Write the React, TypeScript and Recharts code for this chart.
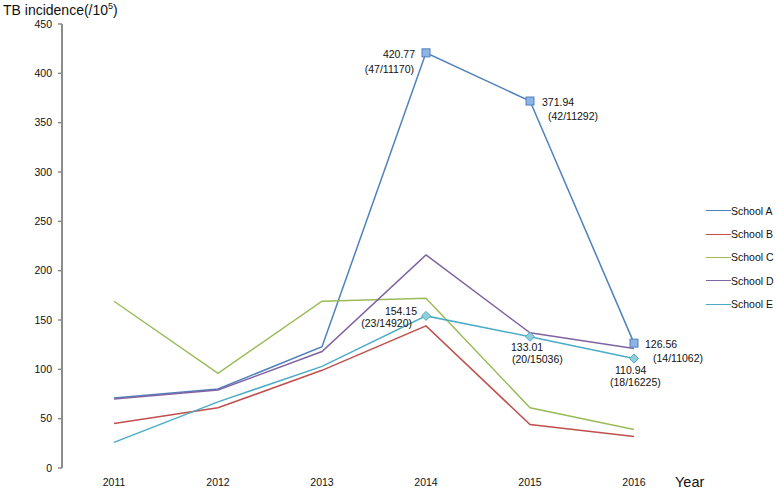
import { LineChart, Line, XAxis, YAxis } from 'recharts'

const years = ['2011', '2012', '2013', '2014', '2015', '2016']
const schoolA = [71, 80, 123, 420.77, 371.94, 126.56]
const schoolB = [45, 61, 99, 144, 44, 32]
const schoolC = [169, 96, 169, 172, 61, 39]
const schoolD = [70, 79, 118, 216, 137, 121]
const schoolE = [26, 67, 103, 154.15, 133.01, 110.94]
const seriesNames = ['School A', 'School B', 'School C', 'School D', 'School E']
const casesA = ['', '', '', '(47/11170)', '(42/11292)', '(14/11062)']
const casesE = ['', '', '', '(23/14920)', '(20/15036)', '(18/16225)']
const yTicks = [0, 50, 100, 150, 200, 250, 300, 350, 400, 450]
const boundaryTicks = [0, 1, 2, 3, 4, 5, 6]

const colors = ['#4f81bd', '#c0504d', '#9bbb59', '#8064a2', '#4bacc6']
const FONT = '"Liberation Sans", Arial, sans-serif'
const AXIS = '#8c8c8c'

const data = years.map((year, i) => ({
  year,
  A: schoolA[i],
  B: schoolB[i],
  C: schoolC[i],
  D: schoolD[i],
  E: schoolE[i],
}))

// label offsets from the marker: [value dx, value dy, cases dx, cases dy, anchor]
const placeA: Record<number, [number, number, number, number, 'start' | 'end']> = {
  3: [-11, 1, -12, 16, 'end'],
  4: [12, 1, 18, 15, 'start'],
  5: [11, 1, 19, 15, 'start'],
}
const placeE: Record<number, [number, number, number, number, 'start' | 'end']> = {
  3: [-9, -5, -14, 7, 'end'],
  4: [-19, 11, -18, 23, 'start'],
  5: [-19, 12, -24, 24, 'start'],
}

const makeDot = (
  key: string,
  shape: 'square' | 'diamond',
  values: number[],
  cases: string[],
  place: Record<number, [number, number, number, number, 'start' | 'end']>
) => (props: any) => {
  const { cx, cy, index } = props
  if (!cases[index] || cx == null || cy == null) return <g key={`${key}-${index}`} />
  const [vdx, vdy, cdx, cdy, anchor] = place[index]
  const marker =
    shape === 'square' ? (
      <rect x={cx - 4} y={cy - 4} width={8} height={8} fill="#8db4e2" stroke="#4f81bd" strokeWidth={1} />
    ) : (
      <polygon
        points={`${cx},${cy - 4.5} ${cx + 4.5},${cy} ${cx},${cy + 4.5} ${cx - 4.5},${cy}`}
        fill="#92cddc"
        stroke="#4bacc6"
        strokeWidth={1}
      />
    )
  return (
    <g key={`${key}-${index}`}>
      {marker}
      <text x={cx + vdx} y={cy + vdy} dy="0.35em" textAnchor={anchor} fontSize={10.5} fill="#111" fontFamily={FONT}>
        {values[index].toFixed(2)}
      </text>
      <text x={cx + cdx} y={cy + cdy} dy="0.35em" textAnchor={anchor} fontSize={10.5} fill="#111" fontFamily={FONT}>
        {cases[index]}
      </text>
    </g>
  )
}

export default function App() {
  return (
    <div style={{ position: 'absolute', left: 0, top: 0, width: 777, height: 493, background: '#fff', fontFamily: FONT }}>
      <LineChart width={777} height={493} data={data} margin={{ top: 24, right: 91, left: 22, bottom: 0 }}>
        <XAxis
          xAxisId="bounds"
          type="number"
          domain={[0, 6]}
          ticks={boundaryTicks}
          tick={false}
          height={0}
          axisLine={{ stroke: AXIS, strokeWidth: 2 }}
          tickLine={{ stroke: AXIS, strokeWidth: 1.5 }}
          tickSize={4}
        />
        <XAxis
          xAxisId="years"
          dataKey="year"
          scale="band"
          axisLine={false}
          tickLine={false}
          height={25}
          tickSize={5}
          tickMargin={6}
          tick={{ fontSize: 10.5, fill: '#111', fontFamily: FONT }}
        />
        <YAxis
          domain={[0, 450]}
          ticks={yTicks}
          width={40}
          axisLine={{ stroke: AXIS, strokeWidth: 2 }}
          tickLine={{ stroke: AXIS, strokeWidth: 1.5 }}
          tickSize={4}
          tickMargin={6}
          tick={{ fontSize: 10.5, fill: '#111', fontFamily: FONT }}
        />
        <Line xAxisId="years" dataKey="A" name={seriesNames[0]} stroke={colors[0]} strokeWidth={1.5}
          dot={makeDot('a', 'square', schoolA, casesA, placeA)} activeDot={false} isAnimationActive={false} />
        <Line xAxisId="years" dataKey="B" name={seriesNames[1]} stroke={colors[1]} strokeWidth={1.5}
          dot={false} activeDot={false} isAnimationActive={false} />
        <Line xAxisId="years" dataKey="C" name={seriesNames[2]} stroke={colors[2]} strokeWidth={1.5}
          dot={false} activeDot={false} isAnimationActive={false} />
        <Line xAxisId="years" dataKey="D" name={seriesNames[3]} stroke={colors[3]} strokeWidth={1.5}
          dot={false} activeDot={false} isAnimationActive={false} />
        <Line xAxisId="years" dataKey="E" name={seriesNames[4]} stroke={colors[4]} strokeWidth={1.5}
          dot={makeDot('e', 'diamond', schoolE, casesE, placeE)} activeDot={false} isAnimationActive={false} />
      </LineChart>

      <div style={{ position: 'absolute', left: 3, top: 1, fontSize: 14, color: '#111', whiteSpace: 'nowrap' }}>
        TB incidence(/10<sup style={{ fontSize: 9 }}>5</sup>)
      </div>
      <div style={{ position: 'absolute', left: 675, top: 474, fontSize: 14.5, color: '#111' }}>Year</div>

      <div style={{ position: 'absolute', left: 706, top: 199 }}>
        {seriesNames.map((name, i) => (
          <div key={name} style={{ display: 'flex', alignItems: 'center', height: 23.4, fontSize: 10.5, color: '#111' }}>
            <span style={{ display: 'inline-block', width: 25, height: 0, borderTop: `1.5px solid ${colors[i]}` }} />
            <span>{name}</span>
          </div>
        ))}
      </div>
    </div>
  )
}
